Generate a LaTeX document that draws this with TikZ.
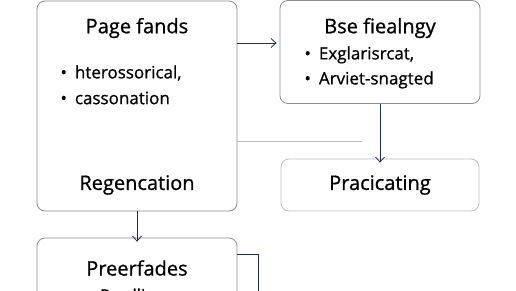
\documentclass[tikz,border=0pt]{standalone}
\usepackage{fontspec}
\setmainfont[FakeBold=0.8]{Open Sans}
\usetikzlibrary{arrows.meta,positioning}
\definecolor{navyline}{RGB}{32,44,92}
\definecolor{boxgray}{RGB}{140,140,140}
\definecolor{lightgray}{RGB}{190,190,190}

\begin{document}
\begin{tikzpicture}[x=1pt,y=-1pt,
    card/.style={draw=boxgray,thick,rounded corners=8pt,fill=white,inner sep=0pt},
    softcard/.style={draw=lightgray,thick,rounded corners=8pt,fill=white,inner sep=0pt},
    title/.style={font=\fontsize{20}{22}\selectfont},
    item/.style={font=\fontsize{17}{20}\selectfont,anchor=west},
    link/.style={navyline,thick,-{Straight Barb[length=5pt,width=9pt]}}]
                \useasboundingbox (0,0) rectangle (516,290);
                \clip (0,0) rectangle (516,290);
                %Boxes
                \node[card,minimum width=200,minimum height=210] (page) at (137,106) {};
                \node[card,minimum width=200,minimum height=103] (base) at (380,52) {};
                \node[softcard,minimum width=198,minimum height=52] (prac) at (380,185) {};
                \node[card,minimum width=200,minimum height=110] (pref) at (137,293) {};
                %Texts
                \node[title] (pagetitle) at (137,28) {Page fands};
                \node[item] (pagea) at (57,73) {•\hspace{8pt}hterossorical,};
                \node[item] (pageb) at (57,98) {•\hspace{8pt}cassonation};
                \node[title] (regen) at (137,185) {Regencation};
                \node[title] (basetitle) at (380,28) {Bse fiealngy};
                \node[item] (basea) at (301,55) {•\hspace{8pt}Exglarisrcat,};
                \node[item] (baseb) at (301,80) {•\hspace{8pt}Arviet-snagted};
                \node[title] (practitle) at (380,185) {Pracicating};
                \node[title] (preftitle) at (137,268) {Preerfades};
                \node[item] (prefa) at (82,297) {•\hspace{8pt}Predliage};
                %Connectors
                \coordinate (pageout) at ([yshift=63]page.east);
                \coordinate (grayend) at (362,141);
                \coordinate (prefout) at ([yshift=39]pref.east);
                \coordinate (prefbend) at (258,254);
                \coordinate (prefdown) at (258,295);
                \draw[link] (pageout) -- ([xshift=-3]pageout -| base.west);
                \draw[lightgray,thick] ([yshift=-35]page.east) -- (grayend);
                \draw[link] (base.south) -- ([yshift=-4]prac.north);
                \draw[link] (page.south) -- ([yshift=-4]pref.north);
                \draw[navyline,thick] (prefout) -- (prefbend) -- (prefdown);
\end{tikzpicture}
\end{document}
